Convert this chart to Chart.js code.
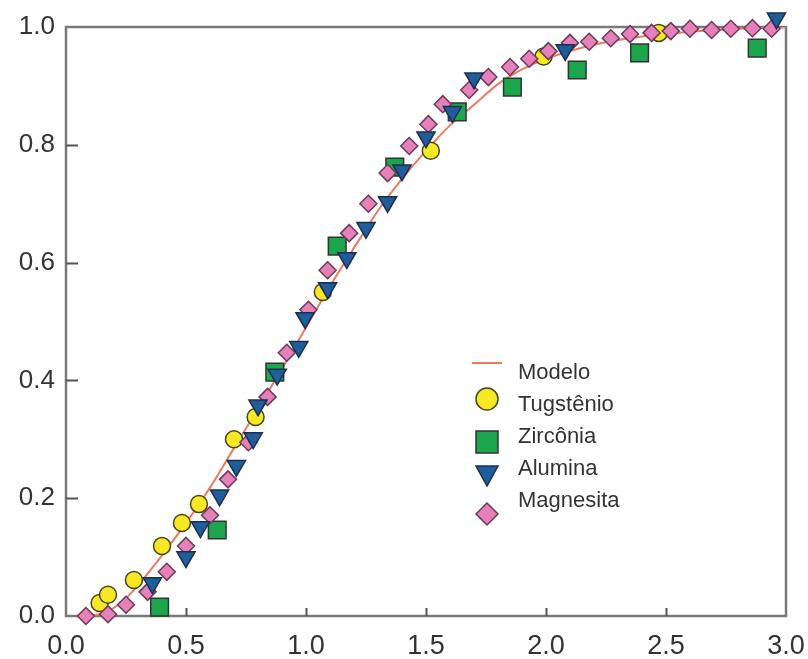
<!DOCTYPE html>
<html>
<head>
<meta charset="utf-8">
<script src="https://cdn.jsdelivr.net/npm/chart.js@4.4.1/dist/chart.umd.min.js"></script>
<style>
html,body{margin:0;padding:0;background:#fff;}
#wrap{width:808px;height:659px;position:relative;}
</style>
</head>
<body>
<div id="wrap"><canvas id="c" width="808" height="659"></canvas></div>
<script>
// ---- data ----
const seriesNames = ['Modelo', 'Tugstênio', 'Zircônia', 'Alumina', 'Magnesita'];

const modeloX = [0.10,0.15,0.20,0.25,0.30,0.40,0.50,0.60,0.70,0.80,0.90,1.00,1.10,1.20,1.30,1.40,1.50,1.60,1.70,1.80,1.90,2.00,2.20,2.40,2.60,2.80,3.00];
const modeloY = [0.000,0.004,0.014,0.030,0.052,0.103,0.158,0.218,0.285,0.352,0.420,0.490,0.560,0.625,0.688,0.742,0.790,0.833,0.868,0.903,0.928,0.946,0.970,0.984,0.992,0.997,1.000];

const tugX = [0.14,0.175,0.283,0.40,0.483,0.554,0.70,0.79,1.07,1.52,1.99,2.47];
const tugY = [0.022,0.036,0.061,0.119,0.158,0.190,0.300,0.338,0.550,0.790,0.950,0.990];

const zirX = [0.39,0.63,0.87,1.13,1.37,1.63,1.86,2.13,2.39,2.88];
const zirY = [0.015,0.146,0.414,0.628,0.762,0.856,0.898,0.927,0.956,0.964];

const aluX = [0.36,0.50,0.56,0.64,0.71,0.78,0.80,0.88,0.97,0.996,1.09,1.17,1.25,1.34,1.40,1.50,1.61,1.70,2.08,2.96];
const aluY = [0.056,0.100,0.151,0.205,0.255,0.302,0.358,0.410,0.457,0.506,0.557,0.608,0.659,0.703,0.757,0.813,0.856,0.913,0.961,1.015];

const magX = [0.083,0.175,0.25,0.34,0.42,0.50,0.60,0.675,0.76,0.84,0.92,1.01,1.09,1.18,1.26,1.34,1.43,1.51,1.57,1.68,1.76,1.85,1.93,2.01,2.10,2.18,2.27,2.35,2.44,2.52,2.60,2.69,2.77,2.86,2.94];
const magY = [0.000,0.003,0.019,0.041,0.075,0.119,0.171,0.232,0.295,0.372,0.447,0.520,0.587,0.650,0.700,0.752,0.798,0.835,0.869,0.893,0.915,0.932,0.946,0.959,0.973,0.975,0.981,0.988,0.990,0.993,0.997,0.995,0.997,0.998,0.997];

const xTicks = [0.0,0.5,1.0,1.5,2.0,2.5,3.0];
const yTicks = [0.0,0.2,0.4,0.6,0.8,1.0];

// ---- styling ----
const FONT = "'Liberation Sans', Arial, Helvetica, sans-serif";
const colors = {
  modelo: '#ec7a60',
  tug: '#f6e823', zir: '#1ba64d', alu: '#1f5d9c', mag: '#e680b9',
  edge: '#333333'
};

function pts(xs, ys){ return xs.map((x,i)=>({x:x, y:ys[i]})); }

// legend symbol images
function makeSym(draw){
  const cv = document.createElement('canvas');
  cv.width = 40; cv.height = 56;
  const g = cv.getContext('2d');
  draw(g, 20, 28);
  return cv;
}
const legendSyms = [
  makeSym((g,cx,cy)=>{ g.strokeStyle=colors.modelo; g.lineWidth=2; g.beginPath(); g.moveTo(cx-15,cy-10); g.lineTo(cx+15,cy-10); g.stroke(); }),
  makeSym((g,cx,cy)=>{ cy-=6; g.fillStyle=colors.tug; g.strokeStyle='#4a4520'; g.lineWidth=1.5; g.beginPath(); g.arc(cx,cy,11,0,Math.PI*2); g.fill(); g.stroke(); }),
  makeSym((g,cx,cy)=>{ cy+=5; g.fillStyle=colors.zir; g.strokeStyle=colors.edge; g.lineWidth=1.5; g.fillRect(cx-11,cy-11,22,22); g.strokeRect(cx-11,cy-11,22,22); }),
  makeSym((g,cx,cy)=>{ cy+=5; g.fillStyle=colors.alu; g.strokeStyle='#1c2f4a'; g.lineWidth=1.5; g.beginPath(); g.moveTo(cx-11,cy-8); g.lineTo(cx+11,cy-8); g.lineTo(cx,cy+12); g.closePath(); g.fill(); g.stroke(); }),
  makeSym((g,cx,cy)=>{ cy+=13; g.fillStyle=colors.mag; g.strokeStyle='#6a3a5a'; g.lineWidth=1.5; g.beginPath(); g.moveTo(cx,cy-11); g.lineTo(cx+11,cy); g.lineTo(cx,cy+11); g.lineTo(cx-11,cy); g.closePath(); g.fill(); g.stroke(); })
];

const framePlugin = {
  id: 'frameTicks',
  afterLayout(chart){
    const lg = chart.legend;
    if (!lg) return;
    lg.left = 457; lg.top = 352;
    lg.width = 280; lg.height = 240;
    lg.right = lg.left + lg.width; lg.bottom = lg.top + lg.height;
  },
  beforeDatasetsDraw(chart){
    const {ctx, chartArea:a, scales} = chart;
    const xs = scales.x, ys = scales.y;
    ctx.save();
    ctx.strokeStyle = '#7a7a7a';
    ctx.lineWidth = 2.5;
    ctx.strokeRect(a.left, a.top, a.right - a.left, a.bottom - a.top);
    ctx.lineWidth = 2;
    ctx.strokeStyle = '#555';
    ctx.beginPath();
    xTicks.forEach(v => {
      if (v <= xs.min || v >= xs.max) return;
      const px = Math.round(xs.getPixelForValue(v)) + 0.5;
      ctx.moveTo(px, a.bottom); ctx.lineTo(px, a.bottom - 8);
    });
    yTicks.forEach(v => {
      if (v <= ys.min || v >= ys.max) return;
      const py = Math.round(ys.getPixelForValue(v)) + 0.5;
      ctx.moveTo(a.left, py); ctx.lineTo(a.left + 12, py);
    });
    ctx.stroke();
    ctx.restore();
  }
};

const markerCommon = { borderColor: colors.edge, borderWidth: 1.5, showLine: false, clip: false };

new Chart(document.getElementById('c'), {
  type: 'scatter',
  data: {
    datasets: [
      { label: seriesNames[0], data: pts(modeloX, modeloY), showLine: true, borderColor: colors.modelo, backgroundColor: colors.modelo,
        borderWidth: 2, pointRadius: 0, pointHoverRadius: 0, cubicInterpolationMode: 'monotone', order: 5, pointStyle: 'line' },
      Object.assign({ label: seriesNames[1], data: pts(tugX, tugY), pointStyle: 'circle', pointRadius: 8.5, backgroundColor: colors.tug, order: 4 }, markerCommon, {borderColor:'#4a4520'}),
      Object.assign({ label: seriesNames[2], data: pts(zirX, zirY), pointStyle: 'rect', pointRadius: 12.5, backgroundColor: colors.zir, order: 3 }, markerCommon),
      Object.assign({ label: seriesNames[3], data: pts(aluX, aluY), pointStyle: 'triangle', rotation: 180, pointRadius: 10.5, backgroundColor: colors.alu, order: 1 }, markerCommon, {borderColor:'#1c2f4a'}),
      Object.assign({ label: seriesNames[4], data: pts(magX, magY), pointStyle: 'rectRot', pointRadius: 8.5, backgroundColor: colors.mag, order: 2 }, markerCommon, {borderColor:'#6a3a5a'})
    ]
  },
  options: {
    responsive: false,
    animation: false,
    devicePixelRatio: 1,
    layout: { padding: { top: 27, right: 22, left: 0, bottom: 0 } },
    plugins: {
      tooltip: { enabled: false },
      legend: {
        display: true,
        position: 'chartArea',
        align: 'start',
        labels: {
          usePointStyle: true,
          pointStyleWidth: 40,
          boxHeight: 22,
          padding: 10,
          color: '#333',
          font: { family: FONT, size: 22 },
          generateLabels(chart){
            const items = Chart.defaults.plugins.legend.labels.generateLabels(chart);
            items.sort((a,b) => a.datasetIndex - b.datasetIndex);
            items.forEach(it => { it.pointStyle = legendSyms[it.datasetIndex]; it.rotation = 0; });
            return items;
          }
        }
      }
    },
    scales: {
      x: {
        type: 'linear', min: 0, max: 3,
        afterFit(s){ s.height = 43; s.paddingLeft = 0; s.paddingRight = 0; },
        afterBuildTicks(s){ s.ticks = xTicks.map(v => ({value: v})); },
        grid: { display: false, drawTicks: false },
        border: { display: false },
        ticks: { padding: 14, color: '#333', font: { family: FONT, size: 27 }, maxRotation: 0, autoSkip: false,
                 callback: v => Number(v).toFixed(1) }
      },
      y: {
        type: 'linear', min: 0, max: 1,
        afterFit(s){ s.width = 66; s.paddingTop = 0; s.paddingBottom = 0; },
        afterBuildTicks(s){ s.ticks = yTicks.map(v => ({value: v})); },
        grid: { display: false, drawTicks: false },
        border: { display: false },
        ticks: { padding: 11, color: '#333', font: { family: FONT, size: 26 }, autoSkip: false,
                 callback: v => Number(v).toFixed(1) }
      }
    }
  },
  plugins: [framePlugin]
});
</script>
</body>
</html>
